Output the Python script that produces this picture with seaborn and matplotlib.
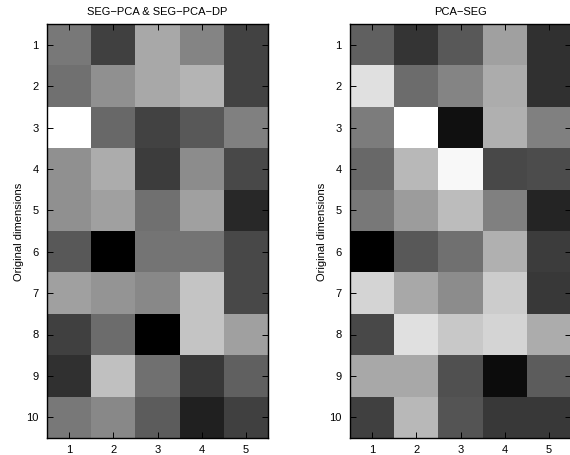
import matplotlib
matplotlib.use("Agg")
import matplotlib.pyplot as plt
import numpy as np
import pandas as pd
import seaborn as sns

rows = [str(i) for i in range(1, 11)]
cols = [str(i) for i in range(1, 6)]

# gray levels (0 = black, 255 = white)
seg_pca = [
    [120, 64, 168, 132, 66],
    [112, 144, 168, 180, 66],
    [255, 104, 66, 88, 128],
    [144, 172, 60, 140, 72],
    [144, 160, 112, 160, 40],
    [88, 0, 116, 116, 72],
    [160, 148, 136, 196, 72],
    [64, 108, 0, 196, 160],
    [48, 192, 112, 56, 96],
    [120, 136, 92, 32, 64],
]
pca_seg = [
    [96, 52, 88, 160, 48],
    [224, 108, 132, 172, 48],
    [124, 255, 16, 176, 128],
    [104, 184, 248, 72, 76],
    [120, 156, 188, 128, 36],
    [0, 88, 112, 176, 60],
    [212, 168, 140, 204, 56],
    [72, 224, 200, 212, 172],
    [168, 168, 80, 12, 92],
    [64, 184, 84, 56, 56],
]
titles = ["SEG\u2212PCA & SEG\u2212PCA\u2212DP", "PCA\u2212SEG"]

sns.set_style("white")
plt.rcParams["font.family"] = ["Liberation Sans", "DejaVu Sans"]
plt.rcParams["text.color"] = "black"
plt.rcParams["axes.labelcolor"] = "black"

fig = plt.figure(figsize=(5.7, 4.56), dpi=100)
axes = [fig.add_axes([47 / 570, 17 / 456, 221 / 570, 414 / 456]),
        fig.add_axes([350 / 570, 17 / 456, 221 / 570, 414 / 456])]

for ax, data, title in zip(axes, [seg_pca, pca_seg], titles):
    df = pd.DataFrame(data, index=rows, columns=cols)
    sns.heatmap(df, ax=ax, cmap="gray", cbar=False, vmin=0, vmax=255)
    ax.set_axisbelow(False)
    ax.set_title(title, fontsize=8, pad=7, color="black")
    ax.set_ylabel("Original dimensions", fontsize=8, color="black", labelpad=2)
    ax.set_xlabel("")
    ax.tick_params(direction="in", length=4, width=0.7, labelsize=8,
                   colors="black", top=True, right=True, left=True,
                   bottom=True, pad=6)
    ax.tick_params(axis="x", pad=4)
    ax.set_yticklabels(rows, rotation=0)
    ax.set_xticklabels(cols, rotation=0)
    for s in ax.spines.values():
        s.set_visible(True)
        s.set_linewidth(1.0)
        s.set_color("black")

fig.savefig("out.png", dpi=100)
